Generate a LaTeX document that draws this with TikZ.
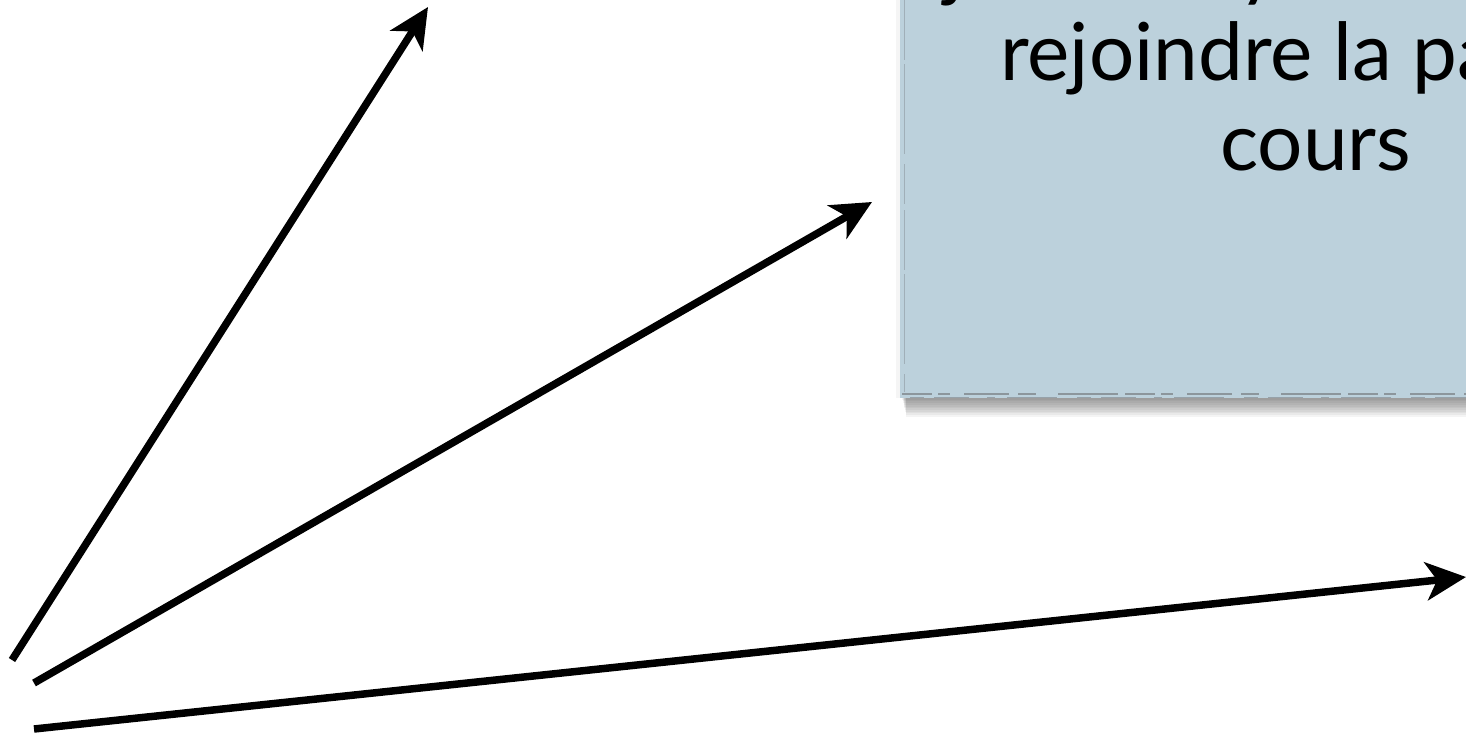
\documentclass[tikz,border=0pt]{standalone}
\usepackage{fontspec}
\setmainfont{Lato}
\usetikzlibrary{arrows.meta}
\definecolor{boxblue}{RGB}{188,209,220}
\definecolor{edgegray}{RGB}{120,125,130}
\tikzset{
  arr/.style={line width=7.5pt,-{Stealth[length=40pt,width=38pt,inset=11pt]}},
  boxtext/.style={inner sep=0pt,anchor=base west,font=\fontsize{80}{90}\selectfont,text=black},
}
\begin{document}
\begin{tikzpicture}[x=1pt,y=-1pt]
\useasboundingbox (0,0) rectangle (1466,736);
\clip (0,0) rectangle (1466,736);
% shadow of the box
\foreach \i in {0,...,11}
  \fill[black,opacity=0.045] (902+\i*0.4,-5) rectangle (1470,398+\i*1.7);
\fill[black,opacity=0.04] (896,-5) rectangle (1470,398);
% the box
\fill[boxblue] (900,-5) rectangle (1470,398) coordinate (boxbr);
\coordinate (boxbl) at (900,398);
% rough edges
\draw[edgegray,line width=1.6pt,opacity=0.7,
  dash pattern=on 30pt off 6pt on 12pt off 14pt on 45pt off 9pt on 18pt off 22pt on 60pt off 7pt]
  (902,394) -- (1470,394);
\draw[edgegray,line width=1pt,opacity=0.55,
  dash pattern=on 14pt off 10pt on 35pt off 18pt on 8pt off 12pt on 50pt off 20pt]
  (910,397) -- (1470,397);
\draw[edgegray,line width=1pt,opacity=0.4,
  dash pattern=on 60pt off 4pt on 90pt off 10pt on 40pt off 6pt]
  (904,0) -- (904,392);
% text (cropped by the picture edge)
\node[boxtext] (l1a) at (944,-9) {j};
\node[boxtext] (l1b) at (1238,-9) {y};
\node[boxtext] (l2) at (1000,80) {rejoindre la pa};
\node[boxtext] (l3) at (1220,170) {cours};
% arrows
\coordinate (t1) at (12,660);
\coordinate (h1) at (428,7);
\coordinate (t2) at (34,683);
\coordinate (h2) at (872,202);
\coordinate (t3) at (34,729);
\coordinate (h3) at (1466,577);
\draw[arr] (t1) -- (h1);
\draw[arr] (t2) -- (h2);
\draw[arr] (t3) -- (h3);
\end{tikzpicture}
\end{document}
